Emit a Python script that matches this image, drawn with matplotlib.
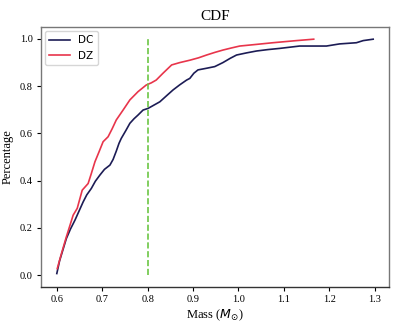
import matplotlib
matplotlib.use("Agg")
import matplotlib.pyplot as plt

# DC cumulative distribution (mass, fraction)
dc_mass = [0.600, 0.606, 0.621, 0.630, 0.640, 0.658, 0.666, 0.676, 0.685, 0.695,
           0.705, 0.717, 0.724, 0.731, 0.737, 0.742, 0.752, 0.761, 0.770, 0.779,
           0.790, 0.801, 0.814, 0.827, 0.842, 0.856, 0.871, 0.886, 0.893, 0.902,
           0.911, 0.930, 0.948, 0.966, 0.982, 0.996, 1.018, 1.040, 1.065, 1.091,
           1.135, 1.194, 1.223, 1.260, 1.275, 1.297]
dc_frac = [0.007, 0.060, 0.155, 0.195, 0.233, 0.310, 0.340, 0.367, 0.398, 0.424,
           0.448, 0.466, 0.490, 0.525, 0.558, 0.579, 0.612, 0.643, 0.662, 0.678,
           0.699, 0.706, 0.720, 0.734, 0.760, 0.784, 0.806, 0.826, 0.833, 0.855,
           0.869, 0.876, 0.883, 0.900, 0.918, 0.932, 0.941, 0.949, 0.955, 0.960,
           0.970, 0.970, 0.979, 0.984, 0.993, 0.999]

# DZ cumulative distribution (mass, fraction)
dz_mass = [0.601, 0.610, 0.621, 0.636, 0.645, 0.656, 0.669, 0.676, 0.684, 0.693,
           0.702, 0.713, 0.722, 0.731, 0.746, 0.761, 0.779, 0.797, 0.808, 0.819,
           0.834, 0.853, 0.871, 0.893, 0.912, 0.930, 0.948, 0.966, 0.985, 1.003,
           1.040, 1.076, 1.128, 1.166]
dz_frac = [0.028, 0.090, 0.162, 0.254, 0.283, 0.360, 0.388, 0.430, 0.480, 0.522,
           0.565, 0.586, 0.620, 0.657, 0.699, 0.742, 0.777, 0.805, 0.814, 0.826,
           0.855, 0.890, 0.900, 0.910, 0.920, 0.932, 0.943, 0.953, 0.962, 0.970,
           0.977, 0.984, 0.993, 0.999]

cut_mass = 0.8
cut_range = [0.0, 1.0]

fig = plt.figure(figsize=(4.14, 3.27), dpi=100)
ax = fig.add_axes([0.099, 0.1223, 0.8406, 0.7947])

ax.plot(dc_mass, dc_frac, color="#1c1c55", lw=1.2, label="DC")
ax.plot(dz_mass, dz_frac, color="#e8354b", lw=1.2, label="DZ")
ax.plot([cut_mass, cut_mass], cut_range, color="#6cc644", lw=1.2, ls="--")

serif = "Liberation Serif"
ax.set_title("CDF", fontfamily=serif, fontsize=11, pad=5)
ax.set_xlabel(r"Mass ($M_{\odot}$)", fontfamily=serif, fontsize=9, labelpad=2)
ax.set_ylabel("Percentage", fontfamily=serif, fontsize=9, labelpad=4)
ax.set_xticks([0.6, 0.7, 0.8, 0.9, 1.0, 1.1, 1.2, 1.3])
ax.set_yticks([0.0, 0.2, 0.4, 0.6, 0.8, 1.0])
for lab in ax.get_xticklabels() + ax.get_yticklabels():
    lab.set_fontfamily(serif)
    lab.set_fontsize(7.5)
ax.tick_params(length=3, width=0.8, pad=3)
for name, s in ax.spines.items():
    s.set_color("#333333" if name == "bottom" else "#777777")
    s.set_linewidth(1.0)

leg = ax.legend(loc="upper left", fontsize=7.5, handlelength=2.0,
                borderaxespad=0.4, framealpha=0.8)

fig.savefig("out.png", dpi=100)
